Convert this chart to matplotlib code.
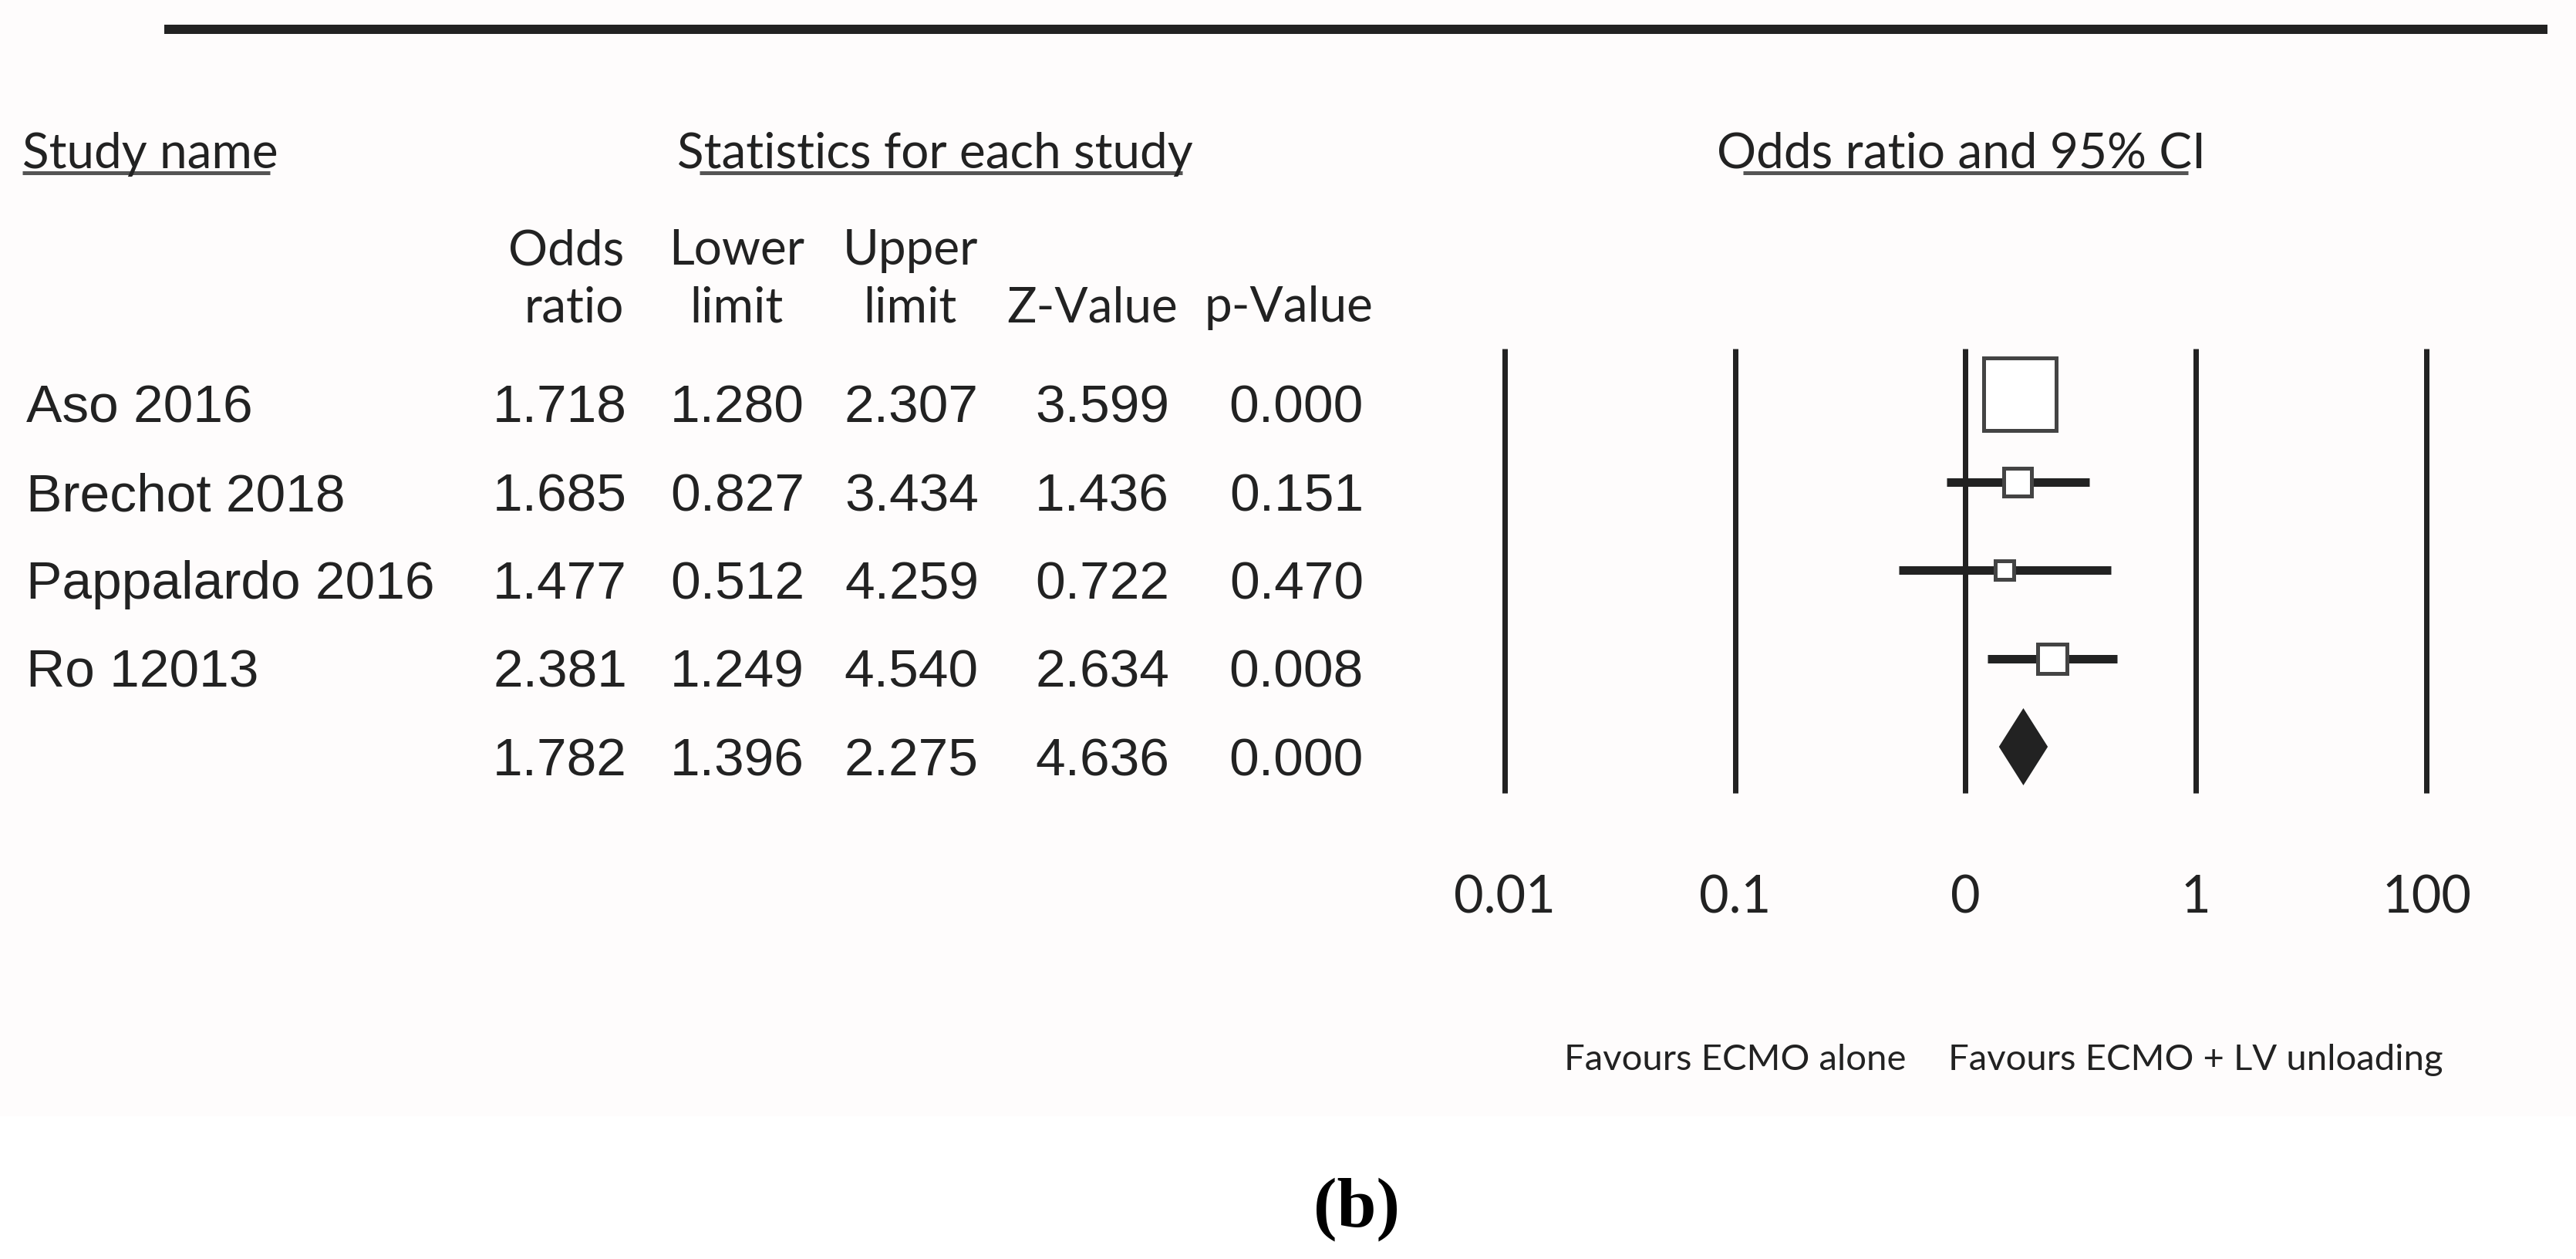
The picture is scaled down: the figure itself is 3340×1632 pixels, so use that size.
import numpy as np
import matplotlib
matplotlib.use("Agg")
import matplotlib.pyplot as plt
from matplotlib.lines import Line2D
from matplotlib.patches import Rectangle
import matplotlib.transforms as mtransforms

# ---------------- data ----------------
studies = ["Aso 2016", "Brechot 2018", "Pappalardo 2016", "Ro 12013"]
odds_ratio = [1.718, 1.685, 1.477, 2.381]
lower_limit = [1.280, 0.827, 0.512, 1.249]
upper_limit = [2.307, 3.434, 4.259, 4.540]
z_value = [3.599, 1.436, 0.722, 2.634]
p_value = [0.000, 0.151, 0.470, 0.008]
weights = [68.3, 12.5, 6.0, 13.2]          # relative weight (%), sets box area

summary_or = 1.782
summary_lower = 1.396
summary_upper = 2.275
summary_z = 4.636
summary_p = 0.000

tick_values = [0.01, 0.1, 1, 10, 100]
tick_labels = ["0.01", "0.1", "0", "1", "100"]
favours_left = "Favours ECMO alone"
favours_right = "Favours ECMO + LV unloading"

# ---------------- figure ----------------
W, H, DPI = 3341, 1632, 100
fig = plt.figure(figsize=(W / DPI, H / DPI), dpi=DPI)
fig.patch.set_facecolor("white")

def fx(x):
    return x / W

def fy(y):
    return 1 - y / H

def pt(px):
    return px * 72.0 / DPI

HEAD_FONT = ["Lato", "DejaVu Sans"]
NUM_FONT = ["Liberation Sans", "DejaVu Sans"]
INK = "#222222"

# faint tinted chart panel (the figure area above the caption)
fig.patches.append(Rectangle((0, fy(1447)), 1, 1 - fy(1447), transform=fig.transFigure,
                             facecolor="#fefcfc", edgecolor="none", zorder=-10))

# top rule
fig.add_artist(Line2D([fx(213), fx(3303)], [fy(38), fy(38)], transform=fig.transFigure,
                      color=INK, lw=pt(12), solid_capstyle="butt"))

# section headers with underline
head_fs = 46
for txt, x0, u0, u1 in [("Study name", 29, 29, 350),
                         ("Statistics for each study", 878, 907, 1533),
                         ("Odds ratio and 95% CI", 2226, 2260, 2837)]:
    fig.text(fx(x0), fy(218), txt, ha="left", va="baseline", fontsize=head_fs,
             family=HEAD_FONT, color=INK)
    fig.add_artist(Line2D([fx(u0), fx(u1)], [fy(224), fy(224)], transform=fig.transFigure,
                          color="#555555", lw=pt(5), solid_capstyle="butt"))

# column headers
col_fs = 46
col_heads = [
    (("Odds", "ratio"), 809, "right"),
    (("Lower", "limit"), 955, "center"),
    (("Upper", "limit"), 1180, "center"),
    (("", "Z-Value"), 1527, "right"),
    (("", "p-Value"), 1780, "right"),
]
for (l1, l2), x, ha in col_heads:
    if l1:
        fig.text(fx(x), fy(343), l1, ha=ha, va="baseline", fontsize=col_fs,
                 family=HEAD_FONT, color=INK)
    fig.text(fx(x), fy(417), l2, ha=ha, va="baseline", fontsize=col_fs,
             family=HEAD_FONT, color=INK)

# table rows
row0_px, row_step = 511.0, 114.25
num_fs = 50
col_right = [813, 1043, 1269, 1516, 1768]
rows_vals = [[odds_ratio[i], lower_limit[i], upper_limit[i], z_value[i], p_value[i]]
             for i in range(len(studies))]
rows_vals.append([summary_or, summary_lower, summary_upper, summary_z, summary_p])
names = studies + [""]
for i, (name, vals) in enumerate(zip(names, rows_vals)):
    base = row0_px + row_step * i + 37
    if name:
        fig.text(fx(34), fy(base), name, ha="left", va="baseline", fontsize=num_fs,
                 family=NUM_FONT, color=INK)
    for v, xr in zip(vals, col_right):
        fig.text(fx(xr), fy(base), f"{v:.3f}", ha="right", va="baseline",
                 fontsize=num_fs, family=NUM_FONT, color=INK)

# ---------------- forest plot ----------------
ax_left, ax_right = 1951, 3146
ax_top, ax_bot = 452, 1028
ax = fig.add_axes([fx(ax_left), fy(ax_bot), (ax_right - ax_left) / W, (ax_bot - ax_top) / H])
ax.set_zorder(5)
ax.set_xscale("log")
ax.set_xlim(tick_values[0], tick_values[-1])
ax.set_ylim((ax_bot - row0_px) / row_step, (ax_top - row0_px) / row_step)
ax.patch.set_alpha(0)
for s in ax.spines.values():
    s.set_visible(False)
ax.set_yticks([])
ax.set_xticks(tick_values)
ax.set_xticklabels(tick_labels)
ax.minorticks_off()
ax.tick_params(axis="x", length=0, pad=pt(105), labelsize=48, colors=INK)
for lab in ax.get_xticklabels():
    lab.set_family(HEAD_FONT)

for tv in tick_values:
    ax.axvline(tv, color=INK, lw=pt(7), clip_on=False, zorder=1, solid_capstyle="butt")

ys = np.arange(len(studies))
ax.hlines(ys, lower_limit, upper_limit, color=INK, lw=pt(11), zorder=2, capstyle="butt")

edge_px = 5
for i, (o, w) in enumerate(zip(odds_ratio, weights)):
    side_px = 11.86 * np.sqrt(w)
    ax.plot([o], [i], marker="s", markersize=pt(side_px - edge_px),
            markerfacecolor="white", markeredgecolor="#444444",
            markeredgewidth=pt(edge_px), linestyle="none", zorder=3, clip_on=False)

# summary diamond
yd = len(studies)
hh = 50 / row_step
ax.fill([summary_lower, summary_or, summary_upper, summary_or],
        [yd, yd - hh, yd, yd + hh], color=INK, zorder=3, lw=0)

# favours labels under the 0.1 and 10 gridlines
trans = mtransforms.blended_transform_factory(ax.transData, fig.transFigure)
ax.text(tick_values[1], fy(1387), favours_left, transform=trans, ha="center",
        va="baseline", fontsize=34, family=HEAD_FONT, color=INK, clip_on=False)
ax.text(tick_values[3], fy(1387), favours_right, transform=trans, ha="center",
        va="baseline", fontsize=34, family=HEAD_FONT, color=INK, clip_on=False)

# caption
fig.text(fx(1759), fy(1590), "(b)", ha="center", va="baseline", fontsize=66,
         family=["Liberation Serif", "DejaVu Serif"], fontweight="bold", color="black")

fig.savefig("out.png", dpi=DPI, facecolor=fig.get_facecolor())
